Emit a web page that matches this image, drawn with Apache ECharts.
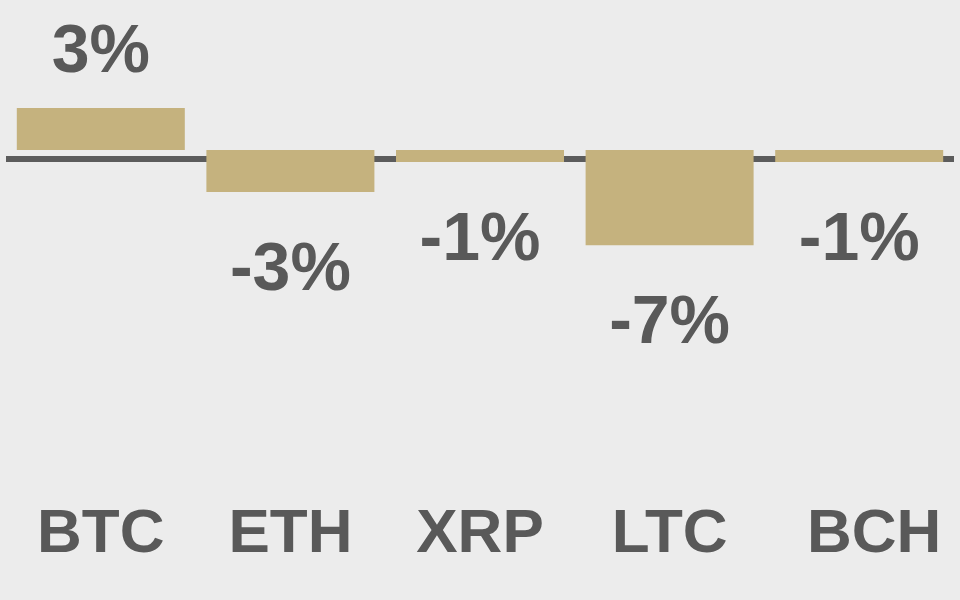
<!DOCTYPE html>
<html>
<head>
<meta charset="utf-8">
<script src="https://cdn.jsdelivr.net/npm/echarts@6/dist/echarts.min.js"></script>
<style>
html,body{margin:0;padding:0;background:#ececec;}
#chart{width:960px;height:600px;}
</style>
</head>
<body>
<div id="chart"></div>
<script>
var categories = ['BTC', 'ETH', 'XRP', 'LTC', 'BCH'];
var changes = [3.0, -3.0, -0.86, -6.8, -0.86];

var TEXT = '#595959';
var FONT = '"Liberation Sans", Arial, sans-serif';

var seriesData = changes.map(function (v) {
  return {
    value: v,
    label: { position: v >= 0 ? 'top' : 'bottom', distance: v >= 0 ? 21 : 45 }
  };
});

// the last category label sits slightly right of its bar in the reference
var axisData = categories.map(function (c, i) {
  return i === categories.length - 1
    ? { value: c, textStyle: { padding: [0, 0, 0, 30] } }
    : c;
});

var chart = echarts.init(document.getElementById('chart'), null, { renderer: 'canvas' });
chart.setOption({
  backgroundColor: '#ececec',
  animation: false,
  grid: { left: 6, right: 6, top: 108, bottom: 441, containLabel: false },
  xAxis: {
    type: 'category',
    data: axisData,
    position: 'bottom',
    axisLine: { onZero: false, lineStyle: { color: '#5c5c5c', width: 6, cap: 'butt' } },
    axisTick: { show: false },
    axisLabel: {
      margin: 345,
      color: TEXT,
      fontSize: 62,
      fontWeight: 'bold',
      fontFamily: FONT
    }
  },
  yAxis: {
    type: 'value',
    min: -0.643,
    max: 3,
    show: false,
    splitLine: { show: false }
  },
  series: [{
    type: 'bar',
    data: seriesData,
    barWidth: 168,
    clip: false,
    itemStyle: { color: '#c5b27e' },
    label: {
      show: true,
      color: TEXT,
      fontSize: 68,
      fontWeight: 'bold',
      fontFamily: FONT,
      formatter: function (p) { return Math.round(p.value) + '%'; }
    }
  }]
});
</script>
</body>
</html>
